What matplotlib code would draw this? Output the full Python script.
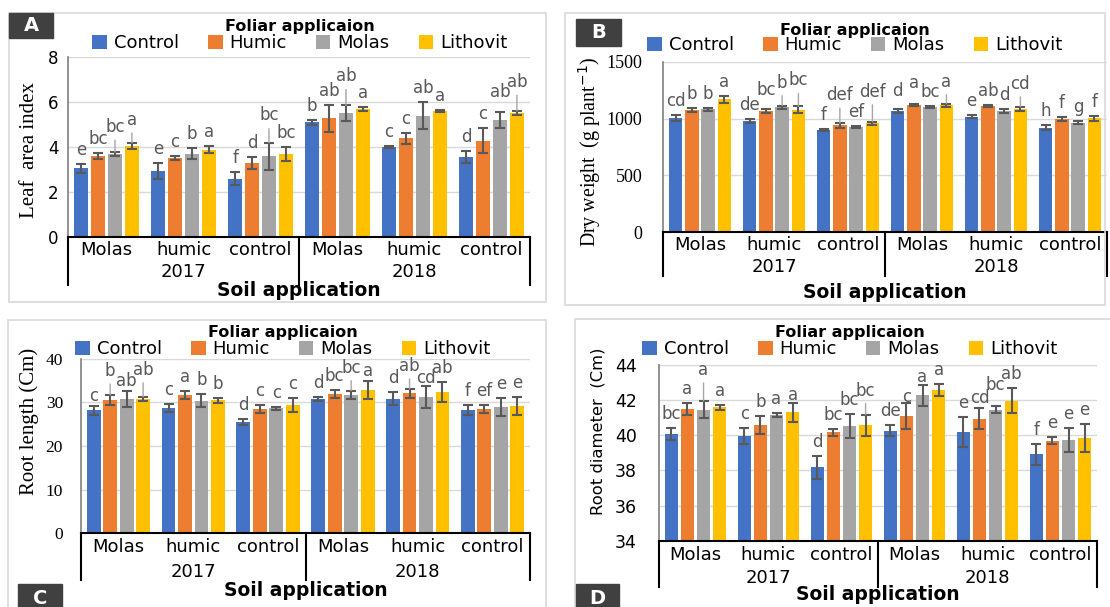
import matplotlib
matplotlib.use('Agg')
import matplotlib.pyplot as plt
from matplotlib.patches import Rectangle
import numpy as np

W, H = 1110, 607
soil = ['Molas', 'humic', 'control', 'Molas', 'humic', 'control']
years = ['2017', '2018']
foliar = ['Control', 'Humic', 'Molas', 'Lithovit']
colors = ['#4472C4', '#ED7D31', '#A5A5A5', '#FFC000']

# rows: foliar treatment, cols: soil treatment (2017 then 2018)
lai = [[3.05, 2.95, 2.60, 5.10, 4.01, 3.56],
       [3.60, 3.52, 3.29, 5.27, 4.39, 4.28],
       [3.68, 3.70, 3.60, 5.50, 5.39, 5.21],
       [4.04, 3.88, 3.70, 5.69, 5.60, 5.50]]
lai_err = [[0.20, 0.35, 0.30, 0.10, 0.05, 0.25],
           [0.15, 0.08, 0.25, 0.60, 0.25, 0.55],
           [0.10, 0.25, 0.60, 0.35, 0.60, 0.35],
           [0.15, 0.15, 0.30, 0.10, 0.05, 0.10]]
lai_let = [['e', 'e', 'f', 'b', 'c', 'd'],
           ['bc', 'c', 'd', 'ab', 'c', 'c'],
           ['bc', 'b', 'bc', 'ab', 'ab', 'ab'],
           ['a', 'a', 'bc', 'a', 'a', 'ab']]

dw = [[1005, 980, 900, 1067, 1017, 920],
      [1075, 1067, 941, 1117, 1111, 996],
      [1080, 1099, 929, 1099, 1067, 964],
      [1170, 1078, 958, 1117, 1084, 1002]]
dw_err = [[30, 15, 10, 15, 10, 20],
          [15, 15, 20, 10, 5, 20],
          [15, 15, 8, 8, 20, 15],
          [30, 30, 15, 15, 20, 20]]
dw_let = [['cd', 'de', 'f', 'd', 'e', 'h'],
          ['b', 'bc', 'def', 'a', 'ab', 'f'],
          ['b', 'b', 'ef', 'bc', 'd', 'g'],
          ['a', 'bc', 'def', 'a', 'cd', 'f']]

rl = [[28.2, 28.7, 25.5, 30.8, 30.8, 28.2],
      [30.5, 31.7, 28.5, 31.9, 32.1, 28.5],
      [30.7, 30.4, 28.6, 31.7, 31.2, 28.9],
      [30.8, 30.5, 29.4, 32.8, 32.4, 29.2]]
rl_err = [[1.0, 1.0, 0.6, 0.5, 1.5, 1.2],
          [1.2, 1.0, 1.0, 1.0, 1.0, 1.0],
          [1.8, 1.4, 0.4, 1.0, 2.5, 2.0],
          [0.5, 0.6, 1.5, 2.0, 2.3, 2.0]]
rl_let = [['c', 'c', 'd', 'd', 'd', 'f'],
          ['b', 'a', 'c', 'bc', 'ab', 'ef'],
          ['ab', 'b', 'c', 'bc', 'cd', 'e'],
          ['ab', 'b', 'c', 'a', 'ab', 'e']]

rd = [[40.07, 39.96, 38.17, 40.26, 40.19, 38.93],
      [41.50, 40.58, 40.17, 41.10, 40.93, 39.69],
      [41.46, 41.15, 40.53, 42.29, 41.44, 39.73],
      [41.60, 41.30, 40.58, 42.58, 41.97, 39.86]]
rd_err = [[0.35, 0.45, 0.65, 0.30, 0.85, 0.60],
          [0.35, 0.50, 0.20, 0.75, 0.60, 0.20],
          [0.50, 0.10, 0.70, 0.60, 0.20, 0.70],
          [0.15, 0.55, 0.60, 0.35, 0.70, 0.80]]
rd_let = [['bc', 'c', 'd', 'de', 'e', 'f'],
          ['a', 'b', 'bc', 'c', 'cd', 'e'],
          ['a', 'a', 'bc', 'a', 'bc', 'e'],
          ['a', 'a', 'bc', 'a', 'ab', 'e']]

# extra lift (px) for crowded letters, (foliar, group) -> px; big lifts get a leader line
lift_a = {(2, 0): 11, (3, 0): 9, (2, 2): 13, (2, 3): 15, (2, 5): 6, (3, 5): 15}
lift_b = {(1, 1): 5, (2, 1): 9, (3, 1): 12, (1, 2): 14, (3, 2): 16, (0, 3): 4,
          (1, 3): 7, (3, 3): 8, (3, 4): 9}
lift_c = {(1, 0): 10, (3, 0): 13, (2, 3): 9, (1, 4): 9, (0, 0): -4, (2, 0): -4,
          (3, 3): -4, (2, 4): -6}
lift_d = {(2, 0): 17, (3, 2): 10, (3, 1): -6, (1, 3): -8, (2, 3): -6, (1, 4): -4, (2, 4): 7}

fig = plt.figure(figsize=(W/100, H/100), dpi=100)
SERIF = 'Liberation Serif'
SANS = 'DejaVu Sans'


def fx(x):
  return x/W


def fy(y):
  return 1-y/H


def panel(frame, box, ylim, yticks, mean, err, let, lifts, ylabel, ylab_xy, ylab_font, ylab_size,
          tick_font, tick_size, tick_pad, rows, tag, tag_box, leg_y, leg_x):
  x0, y0, x1, y1 = box
  fig.patches.append(Rectangle((fx(frame[0]), fy(frame[3])), fx(frame[2]-frame[0]),
                               (frame[3]-frame[1])/H, transform=fig.transFigure,
                               fill=False, ec='#D9D9D9', lw=1.2))
  ax = fig.add_axes([fx(x0), fy(y1), fx(x1-x0), (y1-y0)/H])
  h = y1-y0
  step, bw = 0.22, 0.185
  for k in range(4):
    xs = np.arange(6)+0.5+(k-1.5)*step
    ax.bar(xs, mean[k], bw, color=colors[k], zorder=2, label=foliar[k])
    ax.errorbar(xs, mean[k], yerr=err[k], fmt='none', ecolor='#595959', elinewidth=1.5,
                capsize=3.5, capthick=1.5, zorder=3)
    for j in range(6):
      up = lifts.get((k, j), 0)
      arrow = None
      if up >= 8:
        arrow = dict(arrowstyle='-', color='#A6A6A6', lw=1, shrinkA=1, shrinkB=0)
      ax.annotate(let[k][j], (xs[j], mean[k][j]+err[k][j]), xytext=(0, (9+up)*0.72),
                  textcoords='offset points', ha='center', va='baseline',
                  fontsize=12, color='#595959', family=SANS, arrowprops=arrow, zorder=4)
  ax.set_xlim(0, 6)
  ax.set_ylim(*ylim)
  ax.set_yticks(yticks)
  ax.set_xticks([])
  ax.tick_params(axis='y', length=0, pad=tick_pad)
  for t in ax.get_yticklabels():
    t.set_family(tick_font)
    t.set_fontsize(tick_size)
  ax.grid(axis='y', color='#D9D9D9', lw=1, zorder=0)
  ax.set_axisbelow(True)
  for s in ['top', 'right']:
    ax.spines[s].set_visible(False)
  ax.spines['left'].set_color('#7F7F7F')
  ax.spines['left'].set_linewidth(1.2)
  ax.spines['bottom'].set_color('black')
  ax.spines['bottom'].set_linewidth(1.5)

  cat_y, yr_y, sep_y, soil_y = rows
  tr = ax.get_xaxis_transform()
  for xs in [0, 3, 6]:
    ax.plot([xs, xs], [0, -(sep_y-y1)/h], transform=tr, clip_on=False, color='black', lw=1.5)
  for i, s in enumerate(soil):
    ax.text(i+0.5, -(cat_y-y1)/h, s, transform=tr, ha='center', va='center', fontsize=13, family=SANS)
  for i, yr in enumerate(years):
    ax.text(1.5+3*i, -(yr_y-y1)/h, yr, transform=tr, ha='center', va='center', fontsize=13, family=SANS)
  fig.text(fx((x0+x1)/2), fy(soil_y), 'Soil application', ha='center', va='center',
           fontsize=13.5, fontweight='bold', family=SANS)

  ax.text((ylab_xy[0]-x0)/(x1-x0), (y1-ylab_xy[1])/h, ylabel, transform=ax.transAxes,
          rotation=90, ha='center', va='center', fontsize=ylab_size, family=ylab_font)

  fig.text(fx(leg_x), fy(leg_y[0]), 'Foliar applicaion', ha='center', va='center',
           fontsize=11.5, fontweight='bold', family=SANS)
  hnd, lab = ax.get_legend_handles_labels()
  fig.legend(hnd, lab, loc='center', bbox_to_anchor=(fx(leg_x), fy(leg_y[1])), ncol=4,
             frameon=False, handlelength=0.8, handleheight=0.8,
             handletextpad=0.4, columnspacing=1.6, borderpad=0, prop={'family': SANS, 'size': 13})

  tx0, ty0, tx1, ty1 = tag_box
  fig.patches.append(Rectangle((fx(tx0), fy(ty1)), fx(tx1-tx0), (ty1-ty0)/H,
                               transform=fig.transFigure, color='#404040'))
  fig.text(fx((tx0+tx1)/2), fy((ty0+ty1)/2), tag, ha='center', va='center', color='white',
           fontsize=14, fontweight='bold', family=SANS)
  return ax


panel((9, 13, 546, 302), (68, 57, 530, 237), (0, 8), [0, 2, 4, 6, 8],
      lai, lai_err, lai_let, lift_a, 'Leaf  area index', (29, 150), SERIF, 15, SANS, 12, 7,
      (250, 272, 285, 290), 'A', (9, 13, 53, 38), (26, 43), 300)
panel((565, 13, 1105, 305), (663, 61.7, 1107, 232.3), (0, 1500), [0, 500, 1000, 1500],
      dw, dw_err, dw_let, lift_b, 'Dry weight  (g plant$^{-1}$)', (590, 152), SERIF, 14.3, SERIF, 13, 15,
      (245, 267, 276, 292), 'B', (576, 19, 621, 46), (30, 45), 855)
panel((8, 320, 546, 612), (81, 358.7, 530, 533.3), (0, 40), [0, 10, 20, 30, 40],
      rl, rl_err, rl_let, lift_c, 'Root length (Cm)', (29, 421), SERIF, 15, SERIF, 12.5, 13,
      (547, 572, 580, 590), 'C', (18, 584, 62, 612), (333, 349), 283)
panel((575, 319, 1112, 612), (659, 365, 1097, 540.7), (34, 44), [34, 36, 38, 40, 42, 44],
      rd, rd_err, rd_let, lift_d, 'Root diameter  (Cm)', (598, 431), SANS, 11.8, SANS, 12.5, 16,
      (555, 578, 587, 595), 'D', (576, 584, 619, 612), (333, 349), 850)

fig.savefig('out.png', dpi=100)
